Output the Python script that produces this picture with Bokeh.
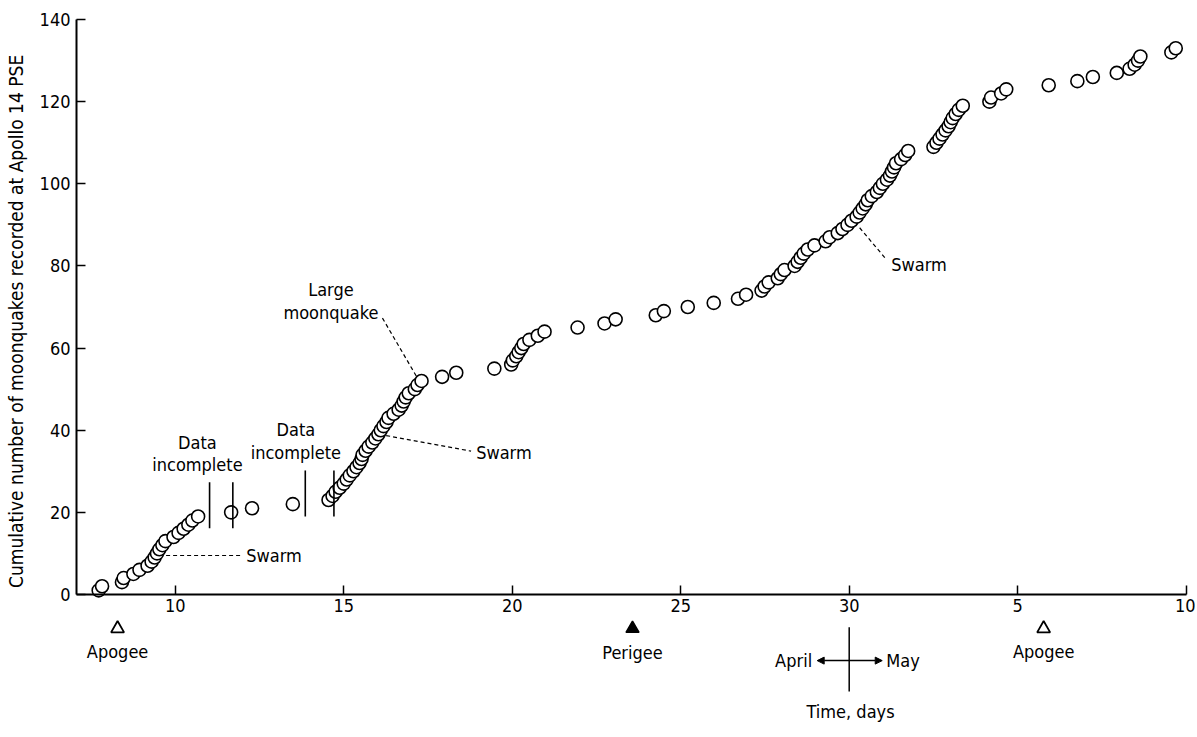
import math
from bokeh.plotting import figure
from bokeh.models import Range1d, FixedTicker, Arrow, NormalHead, ColumnDataSource, Label
from bokeh.core.properties import value
from bokeh.embed import file_html
from bokeh.resources import INLINE

FONT = "'DejaVu Sans Condensed', 'Liberation Sans Narrow', 'Roboto Condensed', Roboto"

# ---- data: day of event (April days; May continues as 31+) and cumulative count ----
days = [7.73, 7.83, 8.42, 8.47, 8.76, 8.94, 9.18, 9.30, 9.39, 9.46,
        9.53, 9.62, 9.71, 9.95, 10.10, 10.25, 10.39, 10.51, 10.68, 11.66,
        12.28, 13.49, 14.55, 14.67, 14.76, 14.88, 15.00, 15.09, 15.18, 15.29,
        15.38, 15.47, 15.53, 15.56, 15.65, 15.74, 15.85, 15.94, 16.03, 16.10,
        16.18, 16.27, 16.33, 16.48, 16.63, 16.72, 16.78, 16.84, 16.93, 17.11,
        17.19, 17.31, 17.92, 18.34, 19.47, 19.97, 20.02, 20.12, 20.19, 20.27,
        20.34, 20.51, 20.76, 20.96, 21.94, 22.74, 23.07, 24.26, 24.50, 25.21,
        25.98, 26.70, 26.94, 27.40, 27.49, 27.61, 27.88, 27.97, 28.08, 28.38,
        28.47, 28.56, 28.65, 28.77, 28.97, 29.30, 29.42, 29.66, 29.80, 29.95,
        30.07, 30.22, 30.31, 30.40, 30.49, 30.55, 30.67, 30.82, 30.91, 31.00,
        31.12, 31.21, 31.27, 31.33, 31.39, 31.54, 31.66, 31.75, 32.50, 32.59,
        32.68, 32.77, 32.86, 32.95, 33.01, 33.07, 33.16, 33.25, 33.37, 34.16,
        34.21, 34.51, 34.66, 35.92, 36.77, 37.23, 37.94, 38.32, 38.47, 38.57,
        38.64, 39.56, 39.69]
counts = [1, 2, 3, 4, 5, 6, 7, 8, 9, 10, 11, 12, 13, 14, 15, 16, 17, 18, 19, 20,
          21, 22, 23, 24, 25, 26, 27, 28, 29, 30, 31, 32, 33, 34, 35, 36, 37, 38, 39, 40,
          41, 42, 43, 44, 45, 46, 47, 48, 49, 50, 51, 52, 53, 54, 55, 56, 57, 58, 59, 60,
          61, 62, 63, 64, 65, 66, 67, 68, 69, 70, 71, 72, 73, 74, 75, 76, 77, 78, 79, 80,
          81, 82, 83, 84, 85, 86, 87, 88, 89, 90, 91, 92, 93, 94, 95, 96, 97, 98, 99, 100,
          101, 102, 103, 104, 105, 106, 107, 108, 109, 110, 111, 112, 113, 114, 115, 116,
          117, 118, 119, 120, 121, 122, 123, 124, 125, 126, 127, 128, 129, 130, 131, 132, 133]

x_ticks = [10, 15, 20, 25, 30, 35, 40]
x_tick_labels = ["10", "15", "20", "25", "30", "5", "10"]
y_ticks = [0, 20, 40, 60, 80, 100, 120, 140]

apogee_days = [8.29, 35.77]
perigee_days = [23.57]
month_boundary = 30.0

# data-incomplete gaps, bars drawn at both ends
gap_bars_x = [11.02, 11.71, 13.86, 14.71]
gap_bars_y0 = [16.1, 16.1, 19.0, 19.0]
gap_bars_y1 = [27.3, 27.3, 30.2, 30.2]

X0 = 7.071  # left end of the day axis
p = figure(width=1195, height=729, output_backend="svg", toolbar_location=None,
           x_range=Range1d(4.816, 40.276), y_range=Range1d(-31.9, 142.93),
           min_border_left=0, min_border_right=0, min_border_top=7, min_border_bottom=4)
p.outline_line_color = None
p.grid.visible = False
p.background_fill_color = "white"

# axes
xa = p.xaxis[0]
xa.fixed_location = 0
xa.bounds = (X0, 40.0)
xa.ticker = FixedTicker(ticks=x_ticks)
xa.major_label_overrides = {t: l for t, l in zip(x_ticks, x_tick_labels)}
xa.major_tick_in = 9
xa.major_tick_out = 0
xa.minor_tick_line_color = None
xa.axis_line_width = 2
xa.major_tick_line_width = 1.5
xa.major_label_standoff = 5
xa.major_label_text_font = FONT
xa.major_label_text_font_size = "18px"
xa.major_label_text_color = "black"
xa.axis_line_color = "black"

ya = p.yaxis[0]
ya.fixed_location = X0
ya.bounds = (0, 140)
ya.ticker = FixedTicker(ticks=y_ticks)
ya.major_tick_in = 9
ya.major_tick_out = 0
ya.minor_tick_line_color = None
ya.axis_line_width = 2
ya.major_tick_line_width = 1.5
ya.major_label_standoff = 6
ya.major_label_text_font = FONT
ya.major_label_text_font_size = "18px"
ya.major_label_text_color = "black"
ya.axis_line_color = "black"

# y-axis title, centred on the 0-140 span
p.add_layout(Label(x=5.29, y=66.5, text="Cumulative number of moonquakes recorded at Apollo 14 PSE",
                   angle=math.pi / 2, text_align="center", text_baseline="middle",
                   text_font=FONT, text_font_size="19px", text_color="black"))

# data points
src = ColumnDataSource(dict(x=days, y=counts))
p.scatter("x", "y", source=src, marker="circle", size=13, fill_color="white",
          line_color="black", line_width=1.6)

# data incomplete bars
p.segment(x0=gap_bars_x, y0=gap_bars_y0, x1=gap_bars_x, y1=gap_bars_y1,
          line_color="black", line_width=1.6)

tf = value(FONT)
def txt(x, y, s, align="center", size="18px"):
    p.text(x=[x], y=[y], text=[s], text_font=tf, text_font_size=size,
           text_align=align, text_baseline="middle", text_color="black")

txt(10.66, 37.0, "Data")
txt(10.66, 31.7, "incomplete")
txt(13.58, 40.2, "Data")
txt(13.58, 34.6, "incomplete")
txt(14.62, 74.3, "Large")
txt(14.62, 68.7, "moonquake")

# leader lines
p.segment(x0=[9.73, 16.26, 30.31, 16.15], y0=[9.5, 38.7, 89.3, 67.3],
          x1=[12.01, 18.78, 31.10, 17.16], y1=[9.5, 34.9, 81.6, 53.1],
          line_color="black", line_width=1.2, line_dash="4 3")
txt(12.11, 9.5, "Swarm", align="left")
txt(18.93, 34.6, "Swarm", align="left")
txt(31.25, 80.3, "Swarm", align="left")

# apogee / perigee markers
p.scatter(x=apogee_days, y=[-8.3] * len(apogee_days), marker="triangle", size=13,
          fill_color="white", line_color="black", line_width=1.8)
p.scatter(x=perigee_days, y=[-8.3] * len(perigee_days), marker="triangle", size=13,
          fill_color="black", line_color="black", line_width=1.5)
for d in apogee_days:
    txt(d, -13.9, "Apogee")
for d in perigee_days:
    txt(d, -14.1, "Perigee")

# April / May boundary
p.segment(x0=[month_boundary], y0=[-8.0], x1=[month_boundary], y1=[-23.6],
          line_color="black", line_width=1.5)
p.add_layout(Arrow(end=NormalHead(size=7, fill_color="black", line_color="black"),
                   x_start=month_boundary, y_start=-16.1, x_end=29.05, y_end=-16.1,
                   line_width=1.5))
p.add_layout(Arrow(end=NormalHead(size=7, fill_color="black", line_color="black"),
                   x_start=month_boundary, y_start=-16.1, x_end=30.98, y_end=-16.1,
                   line_width=1.5))
txt(28.9, -16.1, "April", align="right")
txt(31.1, -16.1, "May", align="left")
txt(30.04, -28.5, "Time, days")

open("out.html", "w").write(file_html(p, INLINE))
